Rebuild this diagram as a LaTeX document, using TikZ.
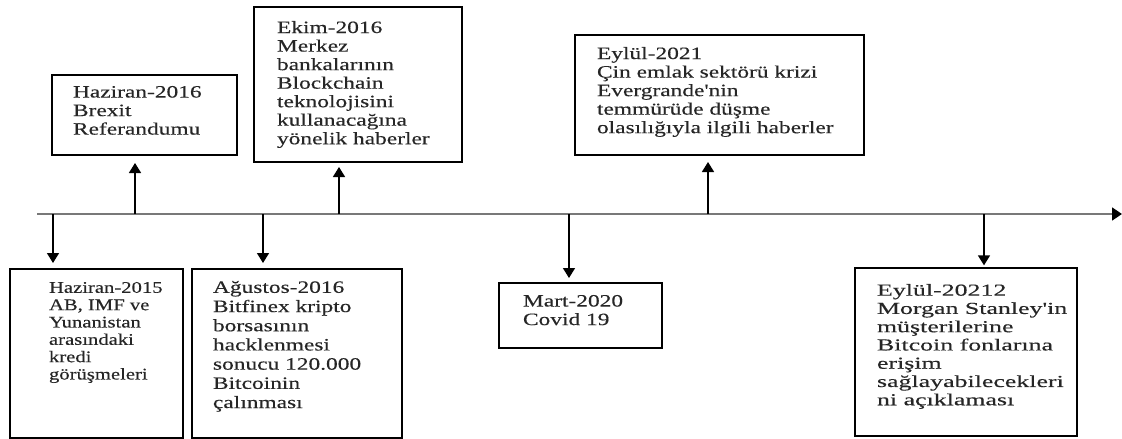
\documentclass[tikz,border=0pt]{standalone}
\usepackage{fontspec}
\setmainfont{Liberation Serif}
% widened serif faces for the event texts
\newfontfamily\wideserif[FakeStretch=1.35,FakeBold=0.3]{Liberation Serif}
\newfontfamily\wideserifB[FakeStretch=1.27,FakeBold=0.3]{Liberation Serif}
\newfontfamily\wideserifC[FakeStretch=1.54,FakeBold=0.3]{Liberation Serif}
\usetikzlibrary{arrows.meta}

\begin{document}
\begin{tikzpicture}[x=0.75pt,y=-0.75pt,
  evbox/.style={draw=black, line width=1.5pt, inner sep=0pt, outer sep=0pt},
  evtext/.style={anchor=north west, inner sep=0pt, outer sep=0pt, align=left,
    text=black!85, font=\wideserif\fontsize{13}{13.9}\selectfont},
  axisline/.style={draw={rgb,255:red,120;green,120;blue,120}, line width=1.2pt,
    -{Triangle[length=7.5pt,width=9.75pt,color=black]}},
  evarrow/.style={draw=black, line width=1.1pt, -{Triangle[length=7.5pt,width=9pt]}}
]
\useasboundingbox (0,0) rectangle (1122,439);

% time axis
\coordinate (ax0) at (37,214);
\coordinate (ax1) at (1122,214);
\draw[axisline] (ax0) -- (ax1);

% event points on the axis
\coordinate (e1) at (135,214);
\coordinate (e2) at (339,214);
\coordinate (e3) at (708,214);
\coordinate (e4) at (53,214);
\coordinate (e5) at (263,214);
\coordinate (e6) at (569,214);
\coordinate (e7) at (984,214);

% boxes above the axis
\node[evbox, minimum width=138.75pt, minimum height=60pt] (b1) at (144.5,115) {};
\node[evbox, minimum width=156pt, minimum height=116.25pt] (b2) at (358,84.5) {};
\node[evbox, minimum width=216.75pt, minimum height=90pt] (b3) at (719.5,95) {};
% boxes below the axis
\node[evbox, minimum width=129.75pt, minimum height=126.75pt] (b4) at (96.5,353.5) {};
\node[evbox, minimum width=157.5pt, minimum height=126.75pt] (b5) at (297,353.5) {};
\node[evbox, minimum width=122.25pt, minimum height=48.75pt] (b6) at (580.5,315.5) {};
\node[evbox, minimum width=166.5pt, minimum height=126pt] (b7) at (966,352) {};

% texts
\node[evtext] (t1) at (73,86) {Haziran-2016\\Brexit\\Referandumu};
\node[evtext] (t2) at (277,21) {Ekim-2016\\Merkez\\bankalarının\\Blockchain\\teknolojisini\\kullanacağına\\yönelik haberler};
\node[evtext] (t3) at (597,47) {Eylül-2021\\Çin emlak sektörü krizi\\Evergrande'nin\\temmürüde düşme\\olasılığıyla ilgili haberler};
\node[evtext, font=\wideserifB\fontsize{12.2}{13}\selectfont] (t4) at (49,282) {Haziran-2015\\AB, IMF ve\\Yunanistan\\arasındaki\\kredi\\görüşmeleri};
\node[evtext, font=\wideserif\fontsize{13}{14.4}\selectfont] (t5) at (213,281) {Ağustos-2016\\Bitfinex kripto\\borsasının\\hacklenmesi\\sonucu 120.000\\Bitcoinin\\çalınması};
\node[evtext] (t6) at (523,295) {Mart-2020\\Covid 19};
\node[evtext, font=\wideserifC\fontsize{12.6}{13.7}\selectfont] (t7) at (877,284) {Eylül-20212\\Morgan Stanley'in\\müşterilerine\\Bitcoin fonlarına\\erişim\\sağlayabilecekleri\\ni açıklaması};

% connectors from the axis to the boxes
\draw[evarrow, shorten >=6pt] (e1) -- (e1 |- b1.south);
\draw[evarrow, shorten >=3.75pt] (e2) -- (e2 |- b2.south);
\draw[evarrow, shorten >=5.25pt] (e3) -- (e3 |- b3.south);
\draw[evarrow, shorten >=4.5pt] (e4) -- (e4 |- b4.north);
\draw[evarrow, shorten >=4.5pt] (e5) -- (e5 |- b5.north);
\draw[evarrow, shorten >=3.75pt] (e6) -- (e6 |- b6.north);
\draw[evarrow, shorten >=2pt] (e7) -- (e7 |- b7.north);
\end{tikzpicture}
\end{document}
